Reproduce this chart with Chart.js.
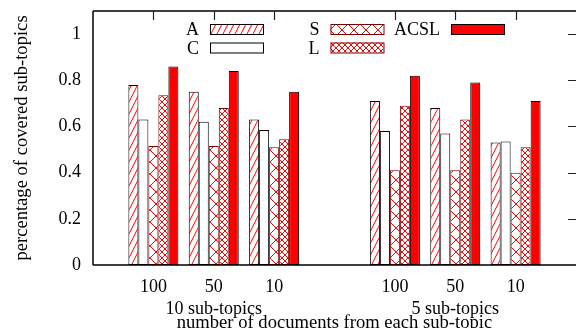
<!DOCTYPE html>
<html><head><meta charset="utf-8">
<script src="https://cdn.jsdelivr.net/npm/chart.js@4/dist/chart.umd.min.js"></script>
<style>html,body{margin:0;padding:0;background:#fff}canvas{display:block}</style>
</head><body>
<canvas id="c" width="576" height="328"></canvas>
<script>
// ---- data ----
const positions = [1, 2, 3, 5, 6, 7];
const tickLabels = ['100', '50', '10', '100', '50', '10'];
const groupCenters = [2, 6];
const groupLabels = ['10 sub-topics', '5 sub-topics'];
const seriesNames = ['A', 'C', 'S', 'L', 'ACSL'];
const valuesA    = [0.78, 0.75, 0.63, 0.71, 0.68, 0.53];
const valuesC    = [0.63, 0.62, 0.585, 0.58, 0.57, 0.535];
const valuesS    = [0.515, 0.515, 0.51, 0.41, 0.41, 0.40];
const valuesL    = [0.735, 0.68, 0.545, 0.69, 0.63, 0.51];
const valuesACSL = [0.86, 0.84, 0.75, 0.82, 0.79, 0.71];
const yTicks = [0, 0.2, 0.4, 0.6, 0.8, 1];

const FONT = 'Liberation Serif';
const FS = 18;
const FT = 18.6;

function makePattern(kind) {
  const c = document.createElement('canvas');
  let w, h;
  if (kind === 'A') { w = 6; h = 12; }
  else if (kind === 'S') { w = 12; h = 12; }
  else { w = 6; h = 6; }
  c.width = w; c.height = h;
  const g = c.getContext('2d');
  g.fillStyle = '#fff'; g.fillRect(0, 0, w, h);
  g.strokeStyle = '#ff0000'; g.lineWidth = 1;
  g.beginPath();
  if (kind === 'A') {
    for (let k = -1; k <= 1; k++) { g.moveTo(k * w, h); g.lineTo((k + 1) * w, 0); }
  } else {
    for (let k = -1; k <= 1; k++) {
      g.moveTo(k * w, 0); g.lineTo((k + 1) * w, h);
      g.moveTo(k * w, h); g.lineTo((k + 1) * w, 0);
    }
  }
  g.stroke();
  return g.createPattern(c, 'repeat');
}

const ctx = document.getElementById('c').getContext('2d');
const fills = [makePattern('A'), '#ffffff', makePattern('S'), makePattern('L'), '#ff0000'];
const borders = ['#000000', '#000000', '#7a0000', '#7a0000', '#000000'];
const allValues = [valuesA, valuesC, valuesS, valuesL, valuesACSL];

const datasets = seriesNames.map((name, i) => ({
  label: name,
  data: positions.map((p, j) => ({ x: p, y: allValues[i][j] })),
  backgroundColor: fills[i],
  borderColor: borders[i],
  borderWidth: 1,
  borderSkipped: false,
  categoryPercentage: 50 / 60.375,
  barPercentage: 1
}));

const framePlugin = {
  id: 'frame',
  afterDatasetsDraw(chart) {
    const { ctx, chartArea: a, scales } = chart;
    const x = scales.x, y = scales.y;
    ctx.save();
    ctx.strokeStyle = '#000';
    ctx.lineWidth = 1.5;
    ctx.beginPath();
    ctx.moveTo(a.left, a.top); ctx.lineTo(a.right, a.top);
    ctx.moveTo(a.left, a.top); ctx.lineTo(a.left, a.bottom);
    ctx.moveTo(a.left, a.bottom); ctx.lineTo(a.right, a.bottom);
    ctx.stroke();
    // mirrored ticks
    ctx.lineWidth = 1.2;
    ctx.strokeStyle = '#222';
    ctx.beginPath();
    positions.forEach(p => { const px = Math.round(x.getPixelForValue(p)) + 0.5; ctx.moveTo(px, a.top); ctx.lineTo(px, a.top + 9); });
    yTicks.forEach(v => { if (v === 0) return; const py = Math.round(y.getPixelForValue(v)) + 0.5; ctx.moveTo(a.right - 8, py); ctx.lineTo(a.right, py); });
    ctx.stroke();
    // legend
    ctx.font = FS + 'px "' + FONT + '"';
    ctx.textAlign = 'right';
    ctx.textBaseline = 'middle';
    chart.data.datasets.forEach((ds, i) => {
      const col = Math.floor(i / 2), row = i % 2;
      const bx = 210 + col * 120.5;
      const by = 24 + row * 18.5;
      ctx.fillStyle = '#000';
      ctx.fillText(ds.label, bx - 11, by + 6.5);
      ctx.fillStyle = ds.backgroundColor;
      ctx.fillRect(bx, by, 53, 10);
      ctx.lineWidth = 1;
      ctx.strokeStyle = ds.borderColor;
      ctx.strokeRect(bx + 0.5, by + 0.5, 53, 10);
    });
    ctx.restore();
  }
};

new Chart(ctx, {
  type: 'bar',
  data: { datasets },
  options: {
    responsive: false,
    animation: false,
    layout: { padding: { top: 11, right: 0, left: 0, bottom: 0 } },
    plugins: { legend: { display: false }, tooltip: { enabled: false } },
    scales: {
      x: {
        type: 'linear', min: 0, max: 8, offset: false,
        grid: { display: false, drawTicks: false },
        border: { display: false },
        ticks: {
          stepSize: 1, autoSkip: false, maxRotation: 0, padding: 11.5,
          color: '#000', font: { family: FONT, size: FS, lineHeight: '22px' },
          callback: (v) => {
            const i = positions.indexOf(v);
            if (i < 0) return '';
            const g = groupCenters.indexOf(v);
            return g >= 0 ? [tickLabels[i], groupLabels[g]] : tickLabels[i];
          }
        },
        title: {
          display: true, text: 'number of documents from each sub-topic',
          color: '#000', font: { family: FONT, size: FT, lineHeight: '16px' },
          padding: { top: 0, bottom: -3 }
        },
        afterFit: (s) => { s.height = 63; s.paddingLeft = 0; s.paddingRight = 0; }
      },
      y: {
        min: 0, max: 1.1,
        grid: { display: false, drawTicks: false },
        border: { display: false },
        ticks: {
          stepSize: 0.2, includeBounds: false, padding: 12,
          color: '#000', font: { family: FONT, size: FS },
          callback: (v) => { const t = yTicks.find(k => Math.abs(k - v) < 1e-6); return t === undefined ? '' : String(t); }
        },
        title: {
          display: true, text: 'percentage of covered sub-topics',
          color: '#000', font: { family: FONT, size: FT, lineHeight: '20px' },
          padding: { top: 12, bottom: 0 }
        },
        afterFit: (s) => { s.width = 93; s.paddingTop = 0; s.paddingBottom = 0; }
      }
    }
  },
  plugins: [framePlugin]
});
</script>
</body></html>
